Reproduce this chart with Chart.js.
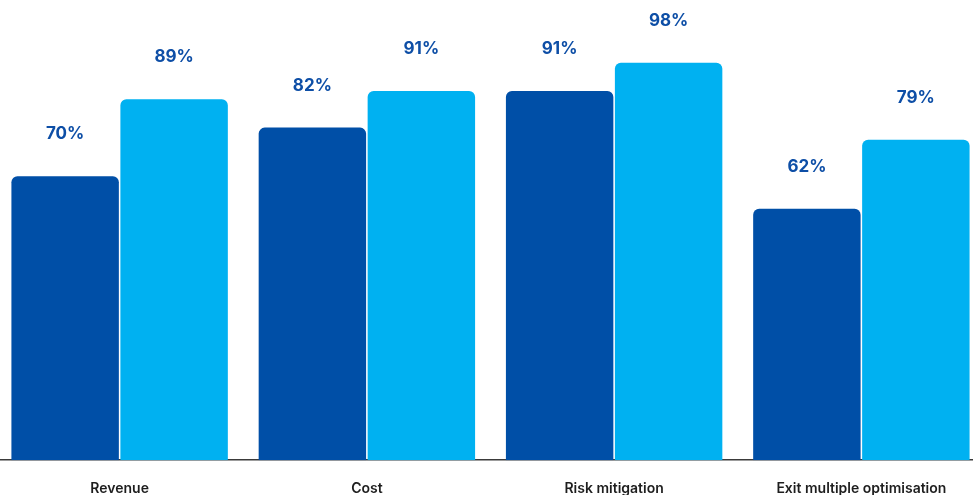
<!DOCTYPE html>
<html>
<head>
<meta charset="utf-8">
<script src="https://cdn.jsdelivr.net/npm/chart.js@4"></script>
<style>
  html, body { margin: 0; padding: 0; background: #fff; overflow: hidden; width: 973px; height: 495px; }
  #wrap { position: absolute; left: -4px; top: 0; width: 989px; height: 517px; }
</style>
</head>
<body>
<div id="wrap"><canvas id="barChart"></canvas></div>
<script>
// ------------------- Data -------------------
const categories = ["Revenue", "Cost", "Risk mitigation", "Exit multiple optimisation"];
const darkValues = [70, 82, 91, 62];
const lightValues = [89, 91, 98, 79];

// draws the % labels above each bar
const valueLabels = {
  id: "valueLabels",
  afterDatasetsDraw(chart) {
    const ctx = chart.ctx;
    ctx.save();
    ctx.font = "700 17px Inter, 'Open Sans', sans-serif";
    ctx.fillStyle = "#0d4ea6";
    ctx.textAlign = "center";
    ctx.textBaseline = "middle";
    chart.data.datasets.forEach((ds, i) => {
      chart.getDatasetMeta(i).data.forEach((bar, j) => {
        ctx.fillText(ds.data[j] + "%", bar.x, bar.y - 42);
      });
    });
    ctx.restore();
  }
};

const ctx = document.getElementById("barChart").getContext("2d");
new Chart(ctx, {
  type: "bar",
  data: {
    labels: categories,
    datasets: [
      {
        label: "Dark",
        data: darkValues,
        backgroundColor: "#004fa7",
        borderRadius: 6,
        borderSkipped: "start",
        barPercentage: 0.986,
        categoryPercentage: 0.8815
      },
      {
        label: "Light",
        data: lightValues,
        backgroundColor: "#00b1f1",
        borderRadius: 6,
        borderSkipped: "start",
        barPercentage: 0.986,
        categoryPercentage: 0.8815
      }
    ]
  },
  options: {
    responsive: true,
    maintainAspectRatio: false,
    animation: false,
    layout: { padding: { top: 10, bottom: 0, left: 0, right: 0 } },
    plugins: {
      legend: { display: false },
      tooltip: { enabled: false }
    },
    scales: {
      x: {
        grid: { display: false, drawTicks: false },
        border: { display: true, color: "#3a3a3a", width: 1.5 },
        ticks: {
          color: "#1e1e1e",
          padding: 20,
          font: { family: "Inter, 'Open Sans', sans-serif", size: 14, weight: "600" }
        }
      },
      y: {
        display: false,
        min: 0,
        max: 111
      }
    }
  },
  plugins: [valueLabels]
});
</script>
</body>
</html>
